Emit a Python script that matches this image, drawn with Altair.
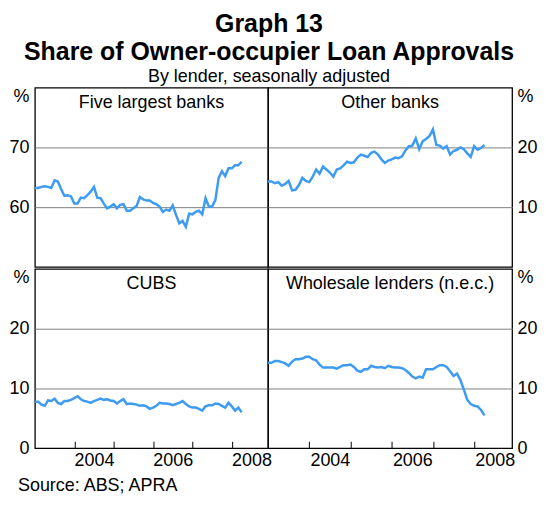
import altair as alt
import pandas as pd

FONT = "Liberation Sans"
BLUE = "#3d9bf3"

# Monthly observations, January 2003 to April 2008 (decimal years)
months = [2003 + i / 12 for i in range(64)]

five_largest = [63.2, 63.2, 63.4, 63.5, 63.4, 63.2, 64.5, 64.3, 63.0, 61.9,
                62.0, 61.8, 60.6, 60.6, 61.6, 61.5, 62.0, 62.6, 63.4, 61.6,
                61.5, 60.6, 59.8, 60.1, 60.5, 59.8, 60.4, 60.5, 59.4, 59.4,
                59.8, 60.2, 61.7, 61.3, 61.1, 61.1, 60.7, 60.5, 60.1, 59.2,
                59.6, 59.4, 60.3, 58.7, 57.3, 57.7, 56.7, 58.9, 58.8, 59.2,
                59.4, 58.8, 61.5, 60.1, 60.1, 61.2, 64.9, 66.0, 65.2, 66.5,
                66.5, 67.0, 67.0, 67.6]
other_banks = [14.3, 14.3, 14.0, 14.2, 13.6, 13.9, 14.4, 12.8, 12.9, 13.7,
               14.9, 14.4, 14.2, 15.1, 16.3, 15.6, 16.8, 16.3, 15.8, 15.1,
               16.3, 16.5, 17.0, 17.6, 17.4, 17.5, 18.3, 18.8, 18.6, 18.4,
               19.1, 19.3, 18.8, 18.0, 17.4, 17.8, 18.0, 18.3, 18.2, 18.5,
               19.5, 20.2, 20.3, 21.5, 19.7, 21.0, 21.4, 21.9, 23.0, 20.4,
               20.3, 19.8, 20.2, 18.8, 19.4, 19.6, 20.0, 19.7, 19.0, 18.4,
               20.2, 19.6, 19.9, 20.4]
cubs = [7.8, 7.8, 7.3, 7.1, 8.0, 7.9, 8.3, 7.6, 7.4, 7.9,
        7.9, 8.1, 8.4, 8.7, 8.2, 7.9, 7.8, 7.6, 7.9, 8.1,
        8.3, 8.1, 8.2, 8.0, 7.9, 7.5, 7.9, 8.2, 7.4, 7.5,
        7.4, 7.3, 7.1, 7.2, 7.0, 6.6, 6.8, 7.1, 7.6, 7.5,
        7.5, 7.4, 7.2, 7.4, 7.6, 7.9, 7.4, 7.0, 6.8, 6.8,
        6.6, 6.3, 7.0, 7.2, 7.2, 7.5, 7.4, 7.1, 6.8, 7.6,
        7.0, 6.3, 6.8, 6.0]
wholesale = [14.3, 14.3, 14.6, 14.6, 14.4, 14.2, 13.8, 14.5, 14.9, 14.9,
             15.0, 15.3, 15.3, 14.9, 14.7, 14.0, 13.5, 13.5, 13.5, 13.5,
             13.3, 13.6, 13.9, 13.9, 14.0, 13.6, 13.0, 12.8, 13.2, 13.2,
             13.8, 13.6, 13.5, 13.6, 13.4, 13.8, 13.6, 13.5, 13.5, 13.4,
             13.1, 12.6, 12.0, 11.7, 12.0, 11.8, 13.2, 13.2, 13.2, 13.6,
             13.9, 13.9, 13.6, 12.9, 12.1, 12.5, 11.4, 9.8, 8.1, 7.4,
             7.1, 7.0, 6.4, 5.5]

x_domain = [2003, 2008.92]
x_tick_values = [2004, 2004.5, 2005, 2005.5, 2006, 2006.5, 2007, 2007.5, 2008, 2008.5]

LEFT_W, RIGHT_W, PANEL_H = 234, 245, 180


def panel(values, name, y_domain, y_values, orient, show_x, width, title=None):
    lo, hi = y_domain
    df = pd.DataFrame({"date": months, "share": values})
    if show_x:
        x_axis = alt.Axis(
            values=x_tick_values, title=None, grid=False, domain=False,
            ticks=True, tickSize=7, tickColor="black", tickWidth=1,
            tickOpacity={"condition": {"test": "datum.value % 1 == 0", "value": 1}, "value": 0},
            labelExpr="datum.value % 2 == 0.5 ? toString(floor(datum.value)) : ''",
            offset=-7, labelPadding=3, labelFont=FONT, labelFontSize=18,
            labelColor="black", labelFlush=False, labelOverlap=False,
        )
    else:
        x_axis = None
    y_axis = alt.Axis(
        orient=orient, values=y_values, title=None, ticks=False, domain=False,
        grid=True, gridColor="#7f7f7f", gridWidth=1,
        gridOpacity={"condition": {"test": f"datum.value == {hi} || datum.value == {lo}", "value": 0},
                     "value": 1},
        labelExpr=f"datum.value == {hi} ? '%' : datum.label",
        labelBaseline={"condition": {"test": f"datum.value == {hi}", "value": "top"},
                       "value": "middle"},
        labelFont=FONT, labelFontSize=18, labelColor="black",
        labelPadding=6 if orient == "left" else 5,
    )
    line = alt.Chart(df).mark_line(color=BLUE, strokeWidth=2.5, clip=True).encode(
        x=alt.X("date:Q", scale=alt.Scale(domain=x_domain, nice=False, zero=False), axis=x_axis),
        y=alt.Y("share:Q", scale=alt.Scale(domain=y_domain, nice=False, zero=False), axis=y_axis),
    )
    label = alt.Chart(pd.DataFrame({"t": [name]})).mark_text(
        font=FONT, fontSize=18, color="black", baseline="alphabetic", align="center"
    ).encode(text="t:N", x=alt.value(width / 2), y=alt.value(20))
    props = dict(width=width, height=PANEL_H)
    if title is not None:
        props["title"] = title
    return alt.layer(line, label).properties(**props)


source = alt.TitleParams(
    text="Source: ABS; APRA", orient="bottom", anchor="start", frame="group",
    font=FONT, fontSize=18, fontWeight="normal", color="black", offset=8, dx=-17,
)

tl = panel(five_largest, "Five largest banks", [50, 80], [60, 70, 80], "left", False, LEFT_W)
tr = panel(other_banks, "Other banks", [0, 30], [10, 20, 30], "right", False, RIGHT_W)
bl = panel(cubs, "CUBS", [0, 30], [0, 10, 20, 30], "left", True, LEFT_W, title=source)
br = panel(wholesale, "Wholesale lenders (n.e.c.)", [0, 30], [0, 10, 20, 30], "right", True, RIGHT_W)

chart = alt.vconcat(
    alt.hconcat(tl, tr, spacing=0, bounds="flush"),
    alt.hconcat(bl, br, spacing=0, bounds="flush"),
    spacing=0,
).properties(
    title=alt.TitleParams(
        text=["Graph 13", "Share of Owner-occupier Loan Approvals"],
        subtitle="By lender, seasonally adjusted",
        font=FONT, fontSize=25, fontWeight="bold", lineHeight=28, color="black",
        subtitleFont=FONT, subtitleFontSize=18, subtitleColor="black", subtitlePadding=3,
        anchor="middle", offset=1, dx=-4,
    ),
    padding={"left": 0, "top": 3, "right": 0, "bottom": 0},
).configure(
    font=FONT, background="white"
).configure_view(
    stroke="black", strokeWidth=1.3
)

chart.save("out.html", embed_options={"renderer": "svg", "actions": False})
